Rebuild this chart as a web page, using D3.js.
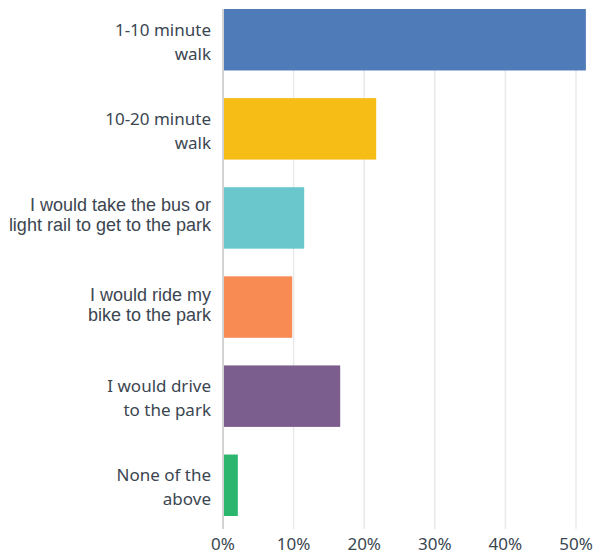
<!DOCTYPE html>
<html>
<head>
<meta charset="utf-8">
<script src="https://cdn.jsdelivr.net/npm/d3@7.9.0/dist/d3.min.js"></script>
<style>
  body { margin: 0; background: #fff; }
</style>
</head>
<body>
<div id="chart"></div>
<script>
// Data
const categories = [
  "1-10 minute walk",
  "10-20 minute walk",
  "I would take the bus or light rail to get to the park",
  "I would ride my bike to the park",
  "I would drive to the park",
  "None of the above"
];
const labelLines = [
  ["1-10 minute", "walk"],
  ["10-20 minute", "walk"],
  ["I would take the bus or", "light rail to get to the park"],
  ["I would ride my", "bike to the park"],
  ["I would drive", "to the park"],
  ["None of the", "above"]
];
const values = [0.514, 0.217, 0.115, 0.098, 0.166, 0.021];
const tickValues = [0, 0.1, 0.2, 0.3, 0.4, 0.5];
const colors = ["#4f7cb8", "#f7bd17", "#6ac8cc", "#f78b53", "#7c5e8e", "#2db66e"];

// these two rows use a different typeface in the source
const arialRows = new Set([2, 3]);

const width = 596;
const height = 555;
const textColor = "#3b4651";

const svg = d3.select("#chart")
  .append("svg")
  .attr("width", width)
  .attr("height", height);

const x = d3.scaleLinear()
  .domain([0, 0.5])
  .range([223, 576]);

const y = d3.scaleBand()
  .domain(categories)
  .range([9, 516])
  .paddingInner(0.31)
  .paddingOuter(0);

const gridTop = 9;
const gridBottom = 529;

// gridlines
svg.append("g")
  .selectAll("line")
  .data(tickValues.slice(1))
  .enter()
  .append("line")
  .attr("x1", d => x(d))
  .attr("x2", d => x(d))
  .attr("y1", gridTop)
  .attr("y2", gridBottom)
  .attr("stroke", "#e7eaec")
  .attr("stroke-width", 1.5);

// bars
svg.append("g")
  .selectAll("rect")
  .data(categories)
  .enter()
  .append("rect")
  .attr("x", x(0) + 1)
  .attr("y", d => y(d))
  .attr("width", (d, i) => x(values[i]) - x(0) - 1)
  .attr("height", y.bandwidth())
  .attr("fill", (d, i) => colors[i]);

// left axis line
svg.append("line")
  .attr("x1", x(0))
  .attr("x2", x(0))
  .attr("y1", gridTop)
  .attr("y2", gridBottom)
  .attr("stroke", "#d3d3d3")
  .attr("stroke-width", 2);

// category labels
const labels = svg.append("g")
  .selectAll("text")
  .data(categories)
  .enter()
  .append("text")
  .attr("text-anchor", "end")
  .attr("fill", textColor)
  .style("font-family", (d, i) => arialRows.has(i) ? "'Liberation Sans', Arial, sans-serif" : "'Noto Sans', sans-serif")
  .style("font-size", (d, i) => arialRows.has(i) ? "18px" : "17px")
  .attr("x", 211)
  .attr("y", (d, i) => y(d) + y.bandwidth() / 2 + (arialRows.has(i) ? -6.5 : -4));

labels.each(function(d, i) {
  const t = d3.select(this);
  const lh = arialRows.has(i) ? 20 : 23.8;
  labelLines[i].forEach((line, j) => {
    t.append("tspan")
      .attr("x", 211)
      .attr("dy", j === 0 ? 0 : lh)
      .text(line);
  });
});

// x axis tick labels
const fmt = d3.format(".0%");
svg.append("g")
  .selectAll("text")
  .data(tickValues)
  .enter()
  .append("text")
  .attr("x", d => x(d))
  .attr("y", 550)
  .attr("text-anchor", "middle")
  .attr("fill", textColor)
  .style("font-family", "'Noto Sans', sans-serif")
  .style("font-size", "17px")
  .text(d => fmt(d));
</script>
</body>
</html>
